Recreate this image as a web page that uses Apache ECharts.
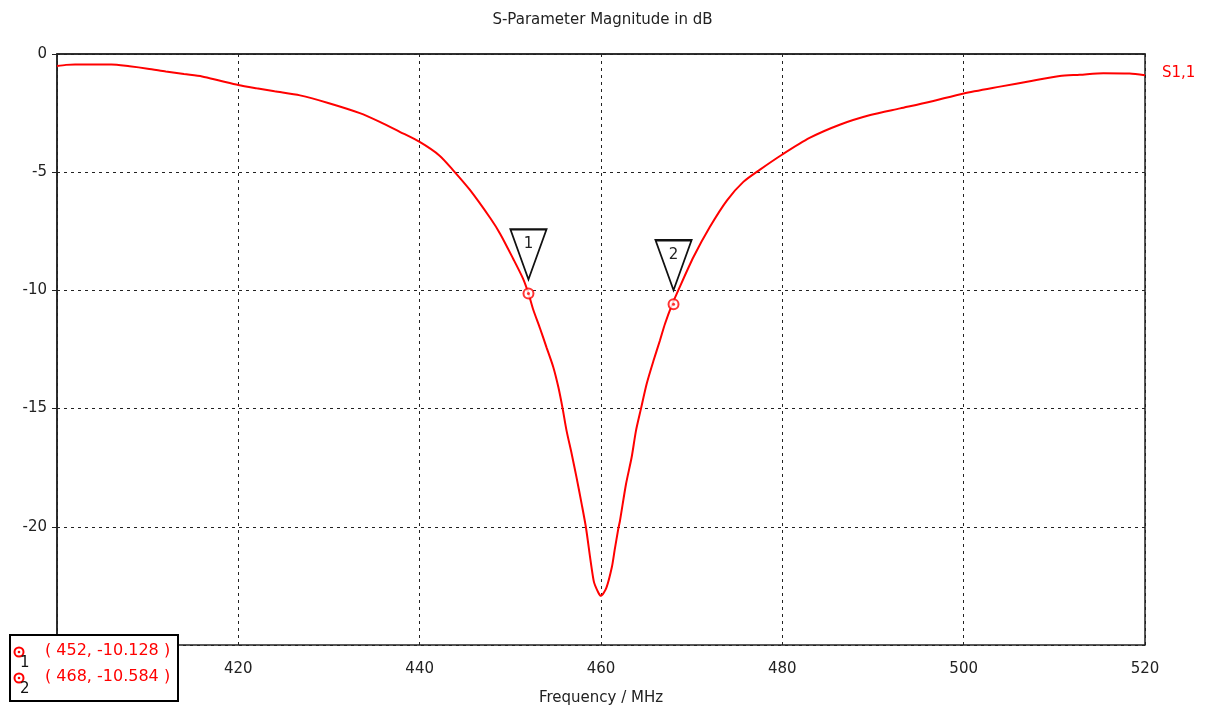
<!DOCTYPE html>
<html>
<head>
<meta charset="utf-8">
<script src="https://cdn.jsdelivr.net/npm/echarts@6/dist/echarts.min.js"></script>
<style>
html,body{margin:0;padding:0;background:#fff;}
#chart{width:1205px;height:711px;}
</style>
</head>
<body>
<div id="chart"></div>
<script>
var chartTitle = 'S-Parameter Magnitude in dB';
var xAxisName = 'Frequency / MHz';
var seriesName = 'S1,1';
var freq = [400, 401, 402, 404, 406, 408, 410, 412, 414, 416, 418, 420, 422, 424, 426.8, 430, 433.4, 435.6, 437.8, 440, 442.2, 443.7, 445.5, 447.8, 448.9, 450.3, 451.4, 452, 452.53, 453.27, 454.0, 454.74, 455.3, 455.77, 456.2, 456.77, 457.3, 457.87, 458.34, 459.2, 459.7, 460.0, 460.6, 461.2, 461.5, 461.9, 462.09, 462.76, 463.38, 463.86, 464.41, 465.04, 465.77, 466.5, 467.06, 467.86, 468.52, 470.2, 472.0, 473.9, 475.7, 477.5, 480, 483, 486.4, 489.7, 493, 496.3, 500, 504, 507.6, 510.6, 512.8, 515.4, 518.3, 520];
var s11 = [-0.51, -0.46, -0.44, -0.44, -0.44, -0.52, -0.62, -0.74, -0.85, -0.95, -1.13, -1.31, -1.45, -1.58, -1.75, -2.08, -2.50, -2.87, -3.29, -3.72, -4.30, -4.92, -5.73, -6.95, -7.62, -8.65, -9.5, -10.128, -10.82, -11.6, -12.42, -13.25, -14.1, -15.0, -15.93, -16.92, -17.91, -19.04, -20.03, -22.3, -22.78, -22.92, -22.57, -21.7, -21.0, -20.1, -19.75, -18.19, -17.06, -15.93, -15.0, -13.95, -13.0, -12.12, -11.41, -10.584, -10.0, -8.59, -7.32, -6.19, -5.41, -4.9, -4.25, -3.55, -2.98, -2.58, -2.30, -2.02, -1.67, -1.38, -1.13, -0.93, -0.88, -0.81, -0.83, -0.90];
var markerIds = ['1', '2'];
var markerFreq = [452, 468];
var markerVal = [-10.128, -10.584];

var lineData = freq.map(function (f, i) { return [f, s11[i]]; });
var mData = markerFreq.map(function (f, i) { return [f, markerVal[i]]; });
var FONT = 'DejaVu Sans';

var chart = echarts.init(document.getElementById('chart'));

var legendGraphics = [{
  type: 'rect', left: 9, top: 634, z: 100,
  shape: { width: 168, height: 66 },
  style: { fill: '#fff', stroke: '#000', lineWidth: 2 }
}];
markerIds.forEach(function (id, i) {
  var cy = 652 + i * 26;
  legendGraphics.push({ type: 'circle', z: 101, shape: { cx: 19, cy: cy, r: 4.5 }, style: { fill: '#fff', stroke: '#ff0000', lineWidth: 2 } });
  legendGraphics.push({ type: 'circle', z: 102, shape: { cx: 19, cy: cy, r: 1.3 }, style: { fill: '#ff0000' } });
  legendGraphics.push({ type: 'text', z: 101, left: 20, top: cy + 4, style: { text: id, fill: '#111', font: '15px ' + FONT } });
  legendGraphics.push({ type: 'text', z: 101, left: 45, top: cy - 9, style: { text: '( ' + markerFreq[i] + ', ' + markerVal[i] + ' )', fill: '#ff0000', font: '16px ' + FONT } });
});

chart.setOption({
  animation: false,
  backgroundColor: '#fff',
  title: {
    text: chartTitle, left: 'center', top: 8,
    textStyle: { fontFamily: FONT, fontSize: 15, fontWeight: 'normal', color: '#222' }
  },
  grid: { left: 57, right: 60, top: 54, bottom: 66, show: true, borderColor: '#222', borderWidth: 1.5, backgroundColor: 'transparent' },
  xAxis: {
    type: 'value', min: 400, max: 520, interval: 20,
    name: xAxisName, nameLocation: 'middle', nameGap: 46,
    nameTextStyle: { fontFamily: FONT, fontSize: 15, color: '#222' },
    axisLine: { show: true, lineStyle: { color: '#222', width: 1.5 } },
    axisTick: { show: false },
    axisLabel: { fontFamily: FONT, fontSize: 15, color: '#222', margin: 17 },
    splitLine: { show: true, lineStyle: { color: '#222', type: [3, 4], width: 1 } }
  },
  yAxis: {
    type: 'value', min: -25, max: 0, interval: 5,
    axisLine: { show: true, lineStyle: { color: '#222', width: 1.5 } },
    axisTick: { show: true, inside: false, length: 5, lineStyle: { color: '#222' } },
    axisLabel: { fontFamily: FONT, fontSize: 15, color: '#222', margin: 10 },
    splitLine: { show: true, lineStyle: { color: '#222', type: [3, 4], width: 1 } }
  },
  series: [{
    name: seriesName, type: 'line', data: lineData, showSymbol: false, smooth: 0.25,
    lineStyle: { color: '#ff0000', width: 2 }, itemStyle: { color: '#ff0000' },
    endLabel: { show: true, formatter: seriesName, color: '#ff0000', fontFamily: FONT, fontSize: 15, distance: 17, offset: [0, -2] },
    markPoint: {
      symbol: 'path://M0,0 L36,0 L18,50 Z', symbolSize: [36, 50], symbolOffset: [0, -39],
      itemStyle: { color: '#fff', borderColor: '#111', borderWidth: 2 },
      label: { show: true, position: 'inside', offset: [0, -10], color: '#222', fontFamily: FONT, fontSize: 15 },
      data: mData.map(function (d, i) { return { coord: d, value: markerIds[i] }; })
    },
    z: 3
  }, {
    type: 'scatter', data: mData, symbol: 'circle', symbolSize: 10,
    itemStyle: { color: '#fff', borderColor: '#ff0000', borderWidth: 2 }, z: 4
  }, {
    type: 'scatter', data: mData, symbol: 'circle', symbolSize: 3,
    itemStyle: { color: '#ff0000' }, z: 5
  }],
  graphic: legendGraphics
});
</script>
</body>
</html>
